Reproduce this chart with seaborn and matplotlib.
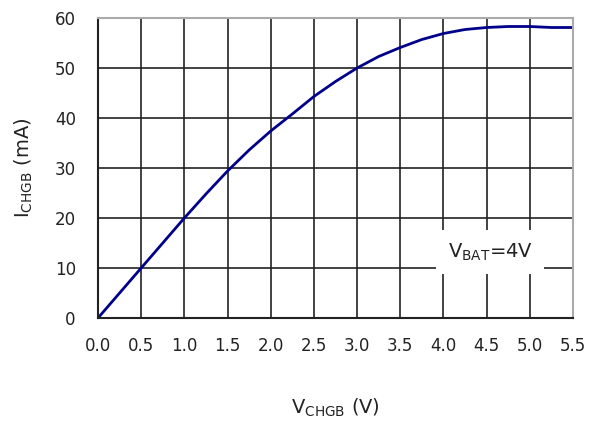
import matplotlib
matplotlib.use("Agg")
import matplotlib.pyplot as plt
import seaborn as sns
import pandas as pd

# Charge current versus charger voltage at VBAT = 4 V
v_chgb = [0.0, 0.25, 0.5, 0.75, 1.0, 1.25, 1.5, 1.75, 2.0, 2.25, 2.5, 2.75,
          3.0, 3.25, 3.5, 3.75, 4.0, 4.25, 4.5, 4.75, 5.0, 5.25, 5.5]
i_chgb = [0.0, 5.0, 10.0, 15.0, 20.0, 24.8, 29.4, 33.6, 37.4, 40.8, 44.3, 47.3,
          50.0, 52.3, 54.1, 55.7, 56.9, 57.7, 58.1, 58.3, 58.3, 58.1, 58.1]
x_ticks = [0.0, 0.5, 1.0, 1.5, 2.0, 2.5, 3.0, 3.5, 4.0, 4.5, 5.0, 5.5]
y_ticks = [0, 10, 20, 30, 40, 50, 60]

df = pd.DataFrame({"V": v_chgb, "I": i_chgb})

sns.set_theme(style="white")
plt.rcParams["font.family"] = ["DejaVu Sans"]

fig = plt.figure(figsize=(5.98, 4.22), dpi=100)
ax = fig.add_axes([98 / 598, 1 - 318 / 422, (573 - 98) / 598, 300 / 422])

sns.lineplot(data=df, x="V", y="I", ax=ax, color="#00008B", linewidth=2.0)

ax.set_xlim(0, 5.5)
ax.set_ylim(0, 60)
ax.set_xticks(x_ticks)
ax.set_xticklabels([f"{t:.1f}" for t in x_ticks])
ax.set_yticks(y_ticks)
ax.set_yticklabels([str(t) for t in y_ticks])
ax.tick_params(axis="both", length=0, labelsize=12, colors="#222222")
ax.tick_params(axis="x", pad=14)
ax.tick_params(axis="y", pad=16)

ax.grid(True, color="#222222", linewidth=1.2)
ax.set_axisbelow(True)
for side in ["left", "bottom"]:
    ax.spines[side].set_color("#222222")
    ax.spines[side].set_linewidth(1.5)
for side in ["top", "right"]:
    ax.spines[side].set_color("#aaaaaa")
    ax.spines[side].set_linewidth(1.5)

ax.set_xlabel(r"V$_\mathregular{CHGB}$ (V)", fontsize=14, color="#222222", labelpad=30)
ax.set_ylabel(r"I$_\mathregular{CHGB}$ (mA)", fontsize=14, color="#222222", labelpad=14)

ax.text(4.54, 13.2, r"V$_\mathregular{BAT}$=4V", fontsize=14, color="#222222",
        ha="center", va="center",
        bbox=dict(boxstyle="square,pad=0.6", facecolor="white", edgecolor="none"),
        zorder=5)

fig.savefig("out.png", dpi=100)
